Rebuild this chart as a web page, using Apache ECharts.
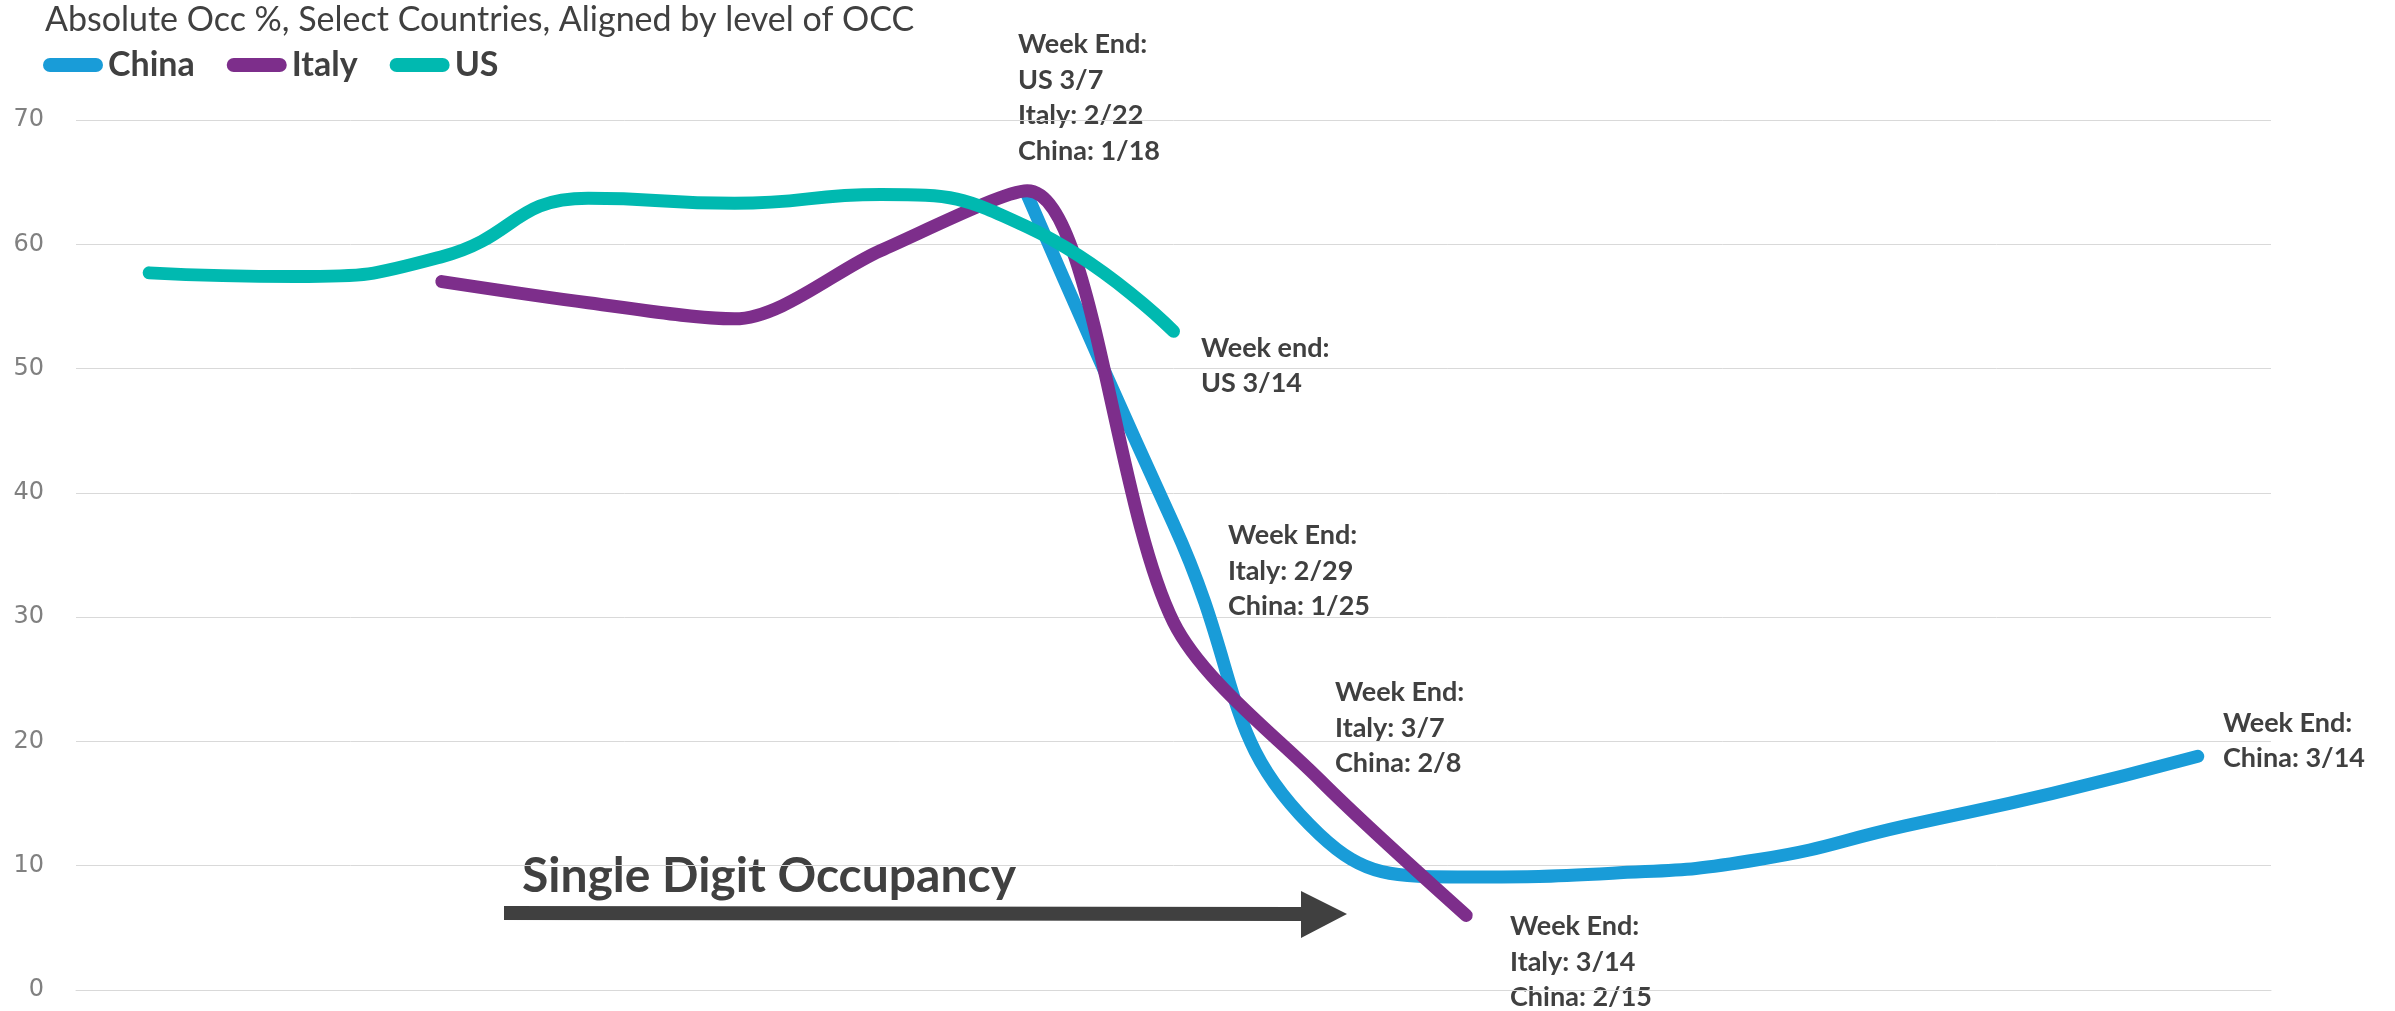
<!DOCTYPE html>
<html>
<head>
<meta charset="utf-8">
<script src="https://cdn.jsdelivr.net/npm/echarts@6/dist/echarts.min.js"></script>
<style>
html, body { margin: 0; padding: 0; background: #fff; }
#chart { width: 2395px; height: 1011px; }
</style>
</head>
<body>
<div id="chart"></div>
<script>
// weeks aligned by level of OCC (no labels shown on the x axis)
var weeks = ['1', '2', '3', '4', '5', '6', '7', '8', '9', '10', '11', '12', '13', '14', '15'];
var china_occ = [null, null, null, null, null, null, 64.0, 37.5, 12.5, 9.1, 9.4, 10.5, 13.2, 15.8, 18.8];
var italy_occ = [null, null, 57.0, 55.3, 54.0, 59.5, 64.3, 29.6, 16.9, 6.0, null, null, null, null, null];
var us_occ = [57.7, 57.4, 59.0, 63.7, 63.3, 64.0, 61.4, 53.0, null, null, null, null, null, null, null];
var y_ticks = [0, 70, 10];

var series_names = ['China', 'Italy', 'US'];
var series_colors = ['#199cd8', '#7d2e8b', '#00b9b0'];
var series_smooth = [0.5, 0.3, 0.5];

var notes = [
    {text: 'Week End:\nUS 3/7\nItaly: 2/22\nChina: 1/18', x: 1018, y: 98},
    {text: 'Week end:\nUS 3/14', x: 1201, y: 366},
    {text: 'Week End:\nItaly: 2/29\nChina: 1/25', x: 1228, y: 571},
    {text: 'Week End:\nItaly: 3/7\nChina: 2/8', x: 1335, y: 728},
    {text: 'Week End:\nItaly: 3/14\nChina: 2/15', x: 1510, y: 962},
    {text: 'Week End:\nChina: 3/14', x: 2223, y: 741}
];

var font_name = 'Lato, "Open Sans", sans-serif';

function makeSeries(name, data, color, smooth) {
    return {
        name: name,
        type: 'line',
        data: data,
        smooth: smooth,
        showSymbol: false,
        symbol: 'none',
        connectNulls: false,
        color: color,
        lineStyle: {width: 13, color: color, cap: 'round', join: 'round'},
        emphasis: {disabled: true}
    };
}

function showChart(id) {
    var graphics = [];
    for (var i = 0; i < notes.length; i++) {
        graphics.push({
            type: 'text',
            style: {
                x: notes[i].x,
                y: notes[i].y,
                text: notes[i].text,
                fill: '#404040',
                font: 'bold 27px ' + font_name,
                lineHeight: 35.5,
                verticalAlign: 'middle',
                align: 'left'
            }
        });
    }
    // arrow under the single digit text
    graphics.push({
        type: 'polygon',
        shape: {points: [[504, 906], [1301, 907], [1301, 891], [1347, 914], [1301, 938], [1301, 921], [504, 920]]},
        style: {fill: '#404040'}
    });
    graphics.push({
        type: 'text',
        style: {
            x: 522,
            y: 877,
            text: 'Single Digit Occupancy',
            fill: '#404040',
            font: 'bold 48px ' + font_name,
            verticalAlign: 'middle',
            align: 'left'
        }
    });

    var series = [];
    for (var j = 0; j < series_names.length; j++) {
        var data = [china_occ, italy_occ, us_occ][j];
        series.push(makeSeries(series_names[j], data, series_colors[j], series_smooth[j]));
    }

    var option = {
        backgroundColor: '#ffffff',
        animation: false,
        title: {
            text: 'Absolute Occ %, Select Countries, Aligned by level of OCC',
            left: 45,
            top: 3,
            padding: 0,
            textStyle: {fontFamily: font_name, fontSize: 34, fontWeight: 'normal', color: '#404040'}
        },
        legend: {
            left: 43,
            top: 48,
            padding: 0,
            itemWidth: 60,
            itemHeight: 14,
            itemGap: 32,
            icon: 'path://M7,0L53,0A7,7,0,0,1,53,14L7,14A7,7,0,0,1,7,0Z',
            data: series_names,
            textStyle: {fontFamily: font_name, fontSize: 34, fontWeight: 'bold', color: '#404040'}
        },
        grid: {left: 76, right: 124, top: 120, bottom: 21, containLabel: false},
        xAxis: {
            type: 'category',
            data: weeks,
            boundaryGap: true,
            axisLine: {show: true, lineStyle: {color: '#d9d9d9', width: 1}},
            axisTick: {show: false},
            axisLabel: {show: false},
            splitLine: {show: false}
        },
        yAxis: {
            type: 'value',
            min: y_ticks[0],
            max: y_ticks[1],
            interval: y_ticks[2],
            axisLine: {show: false},
            axisTick: {show: false},
            axisLabel: {margin: 32, fontFamily: '"DejaVu Sans", sans-serif', fontSize: 24, color: '#808080'},
            splitLine: {show: true, lineStyle: {color: '#d9d9d9', width: 1}}
        },
        series: series,
        graphic: graphics
    };
    var chart = echarts.init(document.getElementById(id));
    chart.setOption(option);
}

showChart('chart');
</script>
</body>
</html>
